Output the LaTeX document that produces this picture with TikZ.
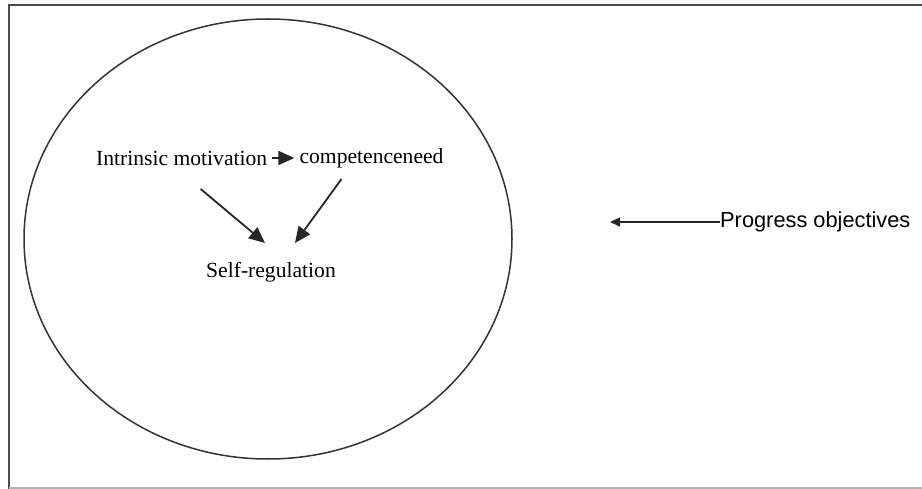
\documentclass[tikz,border=0pt]{standalone}
\usepackage{fontspec}
\setmainfont{Liberation Serif}
\newfontfamily\sansfont{Liberation Sans}
\usepackage{tikz}
\usetikzlibrary{positioning, shapes.geometric, calc, arrows.meta}

\begin{document}
\begin{tikzpicture}
        [
            x=1pt, y=-1pt,
            lbl/.style={inner sep=0pt, font=\fontsize{21.6}{24}\selectfont},
            slbl/.style={inner sep=0pt, font=\sansfont\fontsize{21.8}{24}\selectfont},
            arr/.style={-{Triangle[length=16pt, width=14pt]}, line width=1.8pt, black!85},
            sarr/.style={-{Triangle[length=10pt, width=9pt]}, line width=1.5pt, black!85},
            frame/.style={line width=2pt, black!70}
        ]
        \useasboundingbox (0,0) rectangle (922,489);
        \draw [frame] (922,5) -- (9,5) -- (9,489);
        \draw [line width=1.5pt, black!30] (9,488) -- (922,488);
        \node (zone) [ellipse, draw, line width=1.5pt, black!80, minimum width=488pt,
                      minimum height=440pt] at (268,239) {};
        \node (intr) [lbl, anchor=west] at (96,158) {Intrinsic motivation};
        \node (comp) [lbl, right=32pt of intr] {competenceneed};
        \node (self) [lbl] at (271,272) {Self-regulation};
        \node (prog) [slbl, anchor=west] at (720,222) {Progress objectives};
        \coordinate (tip) at (610,222);
        \draw [arr, shorten <=5pt, shorten >=5pt] (intr) -- (comp);
        \draw [arr] ($(intr.center)+(19,31)$) -- ($(self.center)+(-6,-29)$);
        \draw [arr] ($(comp.center)+(-30,21)$) -- ($(self.center)+(24,-29)$);
        \draw [sarr] (prog.west) -- (tip);
    \end{tikzpicture}
\end{document}
